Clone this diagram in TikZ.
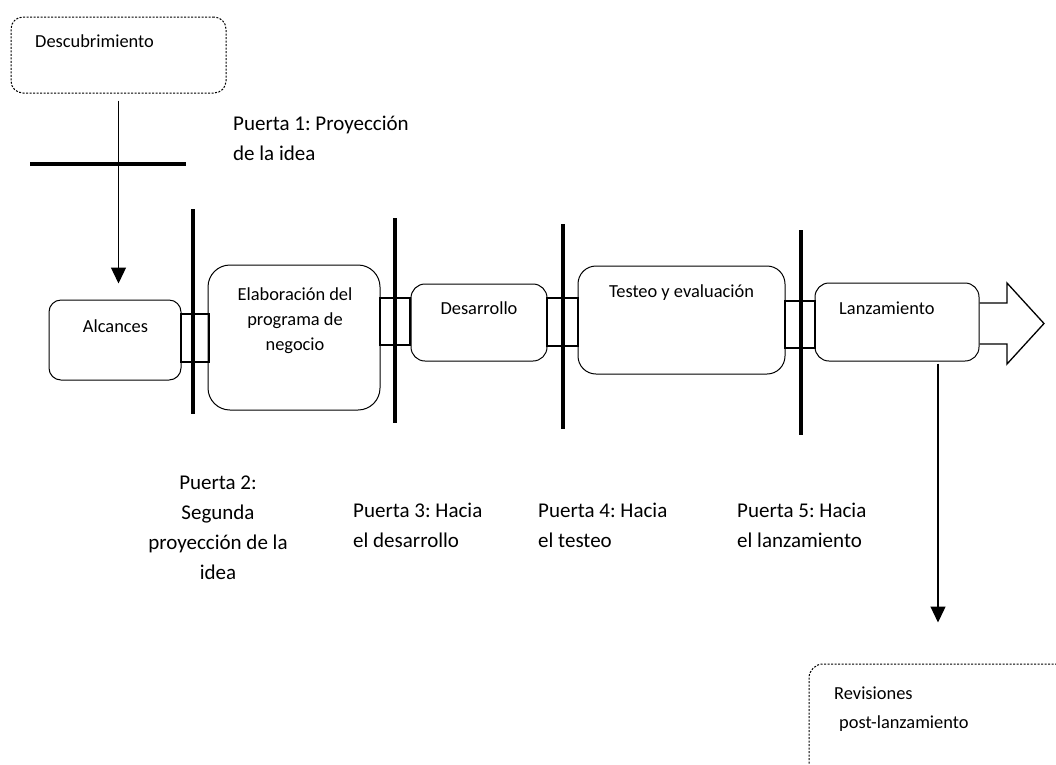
\documentclass[tikz,border=0pt]{standalone}
\usepackage{fontspec}
\setmainfont{Carlito}
\usetikzlibrary{arrows.meta}
\frenchspacing

\begin{document}
\begin{tikzpicture}[x=1pt,y=-1pt,
  stage/.style={draw,line width=1pt,rounded corners=#1,inner sep=0pt,fill=white},
  stage/.default=12pt,
  dotbox/.style={stage=#1,dash pattern=on 2pt off 1.5pt},
  link/.style={draw,line width=1.6pt,inner sep=0pt},
  gate/.style={line width=3.6pt},
  arr/.style={line width=1.3pt,-{Triangle[length=16pt,width=15pt]}},
  boxtxt/.style={inner sep=0pt,font=\fontsize{18.4}{25}\selectfont},
  gatetxt/.style={inner sep=0pt,font=\fontsize{21}{30}\selectfont}]
\useasboundingbox (0,0) rectangle (1056,764);

% stage boxes
\node[dotbox=12pt,minimum width=215pt,minimum height=76pt] (desc) at (118.5,55) {};
\node[stage=12pt,minimum width=132pt,minimum height=80pt] (alc) at (115,340) {};
\node[stage=22pt,minimum width=172pt,minimum height=145pt] (elab) at (294,337.5) {};
\node[stage=14pt,minimum width=136pt,minimum height=77pt] (des) at (479,322.5) {};
\node[stage=18pt,minimum width=207pt,minimum height=108pt] (test) at (681.5,320) {};
\node[stage=14pt,minimum width=164pt,minimum height=78pt] (lanz) at (897,322) {};
\begin{scope}
  \clip (0,0) rectangle (1056,764);
  \node[dotbox=14pt,minimum width=262pt,minimum height=126pt] (rev) at (940,727) {};
\end{scope}

% links between consecutive stages
\node[link,minimum width=28pt,minimum height=48pt] (c1) at (195,338) {};
\node[link,minimum width=30pt,minimum height=47pt] (c2) at (395,321.5) {};
\node[link,minimum width=31pt,minimum height=48pt] (c3) at (562.5,322) {};
\node[link,minimum width=30pt,minimum height=47pt] (c4) at (800,324.5) {};

% gates
\draw[gate] (30,164) coordinate (g1a) -- (186,164) coordinate (g1b);
\draw[gate] (193,209) coordinate (g2a) -- (193,414) coordinate (g2b);
\draw[gate] (395,218) coordinate (g3a) -- (395,423) coordinate (g3b);
\draw[gate] (563,224) coordinate (g4a) -- (563,429) coordinate (g4b);
\draw[gate] (801,230) coordinate (g5a) -- (801,435) coordinate (g5b);

% flow arrows
\draw[arr,shorten <=7pt,shorten >=16pt] (desc.south) -- (desc.south |- alc.north);
\draw[arr,shorten <=2pt,shorten >=41pt] ([xshift=41pt]lanz.south) -- ([xshift=41pt]lanz.south |- rev.north);

% outgoing block arrow
\coordinate (ba) at (lanz.east |- 0,303);
\coordinate (bb) at (lanz.east |- 0,344);
\draw[line width=1.3pt,line join=miter] (ba) -- (1007,303) -- (1007,283) -- (1044,323.5)
  -- (1007,364) -- (1007,344) -- (bb);

% box texts
\node[boxtxt,anchor=base west] (tdesc) at (35,47) {Descubrimiento};
\node[boxtxt,anchor=base] (talc) at (115.5,332) {Alcances};
\node[boxtxt,anchor=base] (telab1) at (295,300) {Elaboración del};
\node[boxtxt,anchor=base] (telab2) at (295,325) {programa de};
\node[boxtxt,anchor=base] (telab3) at (295,350) {negocio};
\node[boxtxt,anchor=base] (tdes) at (479,314) {Desarrollo};
\node[boxtxt,anchor=base] (ttest) at (681.5,297) {Testeo y evaluación};
\node[boxtxt,anchor=base west] (tlanz) at (839,314) {Lanzamiento};
\node[boxtxt,anchor=base west] (trev1) at (834,699) {Revisiones};
\node[boxtxt,anchor=base west] (trev2) at (839,728) {post-lanzamiento};

% gate labels
\node[gatetxt,anchor=base west] (p1a) at (233,130) {Puerta 1: Proyección};
\node[gatetxt,anchor=base west] (p1b) at (233,160) {de la idea};
\node[gatetxt,anchor=base] (p2a) at (218,489) {Puerta 2:};
\node[gatetxt,anchor=base] (p2b) at (218,519) {Segunda};
\node[gatetxt,anchor=base] (p2c) at (218,549) {proyección de la};
\node[gatetxt,anchor=base] (p2d) at (218,579) {idea};
\node[gatetxt,anchor=base west] (p3a) at (353,517) {Puerta 3: Hacia};
\node[gatetxt,anchor=base west] (p3b) at (353,547) {el desarrollo};
\node[gatetxt,anchor=base west] (p4a) at (538,517) {Puerta 4: Hacia};
\node[gatetxt,anchor=base west] (p4b) at (538,547) {el testeo};
\node[gatetxt,anchor=base west] (p5a) at (737,517) {Puerta 5: Hacia};
\node[gatetxt,anchor=base west] (p5b) at (737,547) {el lanzamiento};
\end{tikzpicture}
\end{document}
